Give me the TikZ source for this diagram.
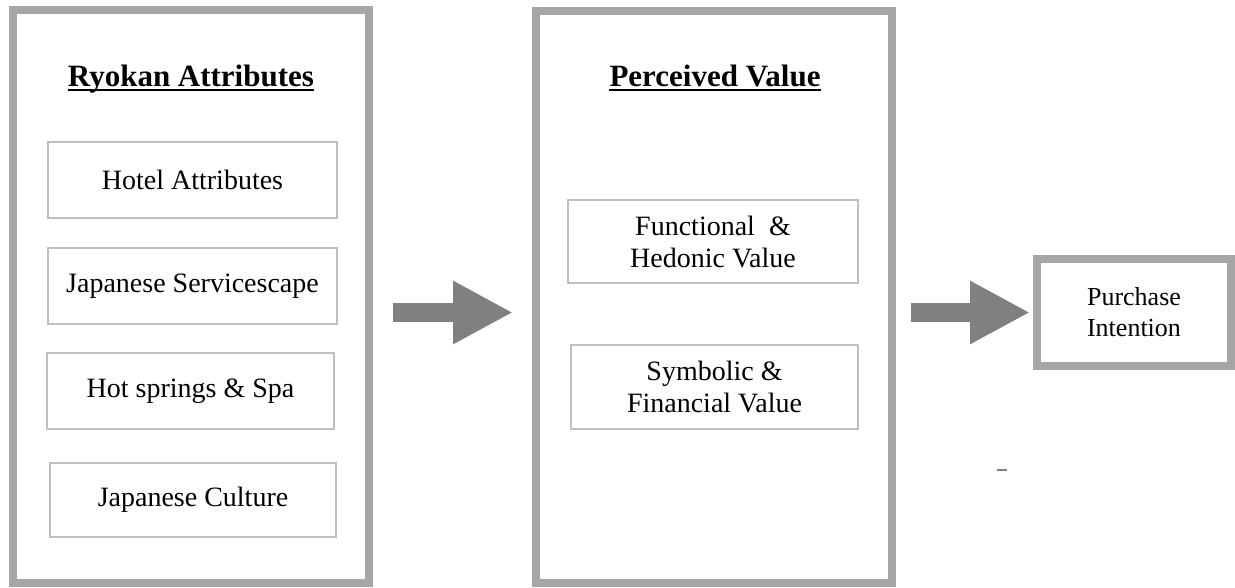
\documentclass[tikz,border=0pt]{standalone}
\usepackage{fontspec}
\setmainfont{Liberation Serif}
\usetikzlibrary{arrows.meta,positioning}
\definecolor{framegray}{HTML}{A6A6A6}
\definecolor{linegray}{HTML}{BFBFBF}
\definecolor{arrowgray}{HTML}{808080}

\begin{document}
\begin{tikzpicture}[x=1pt,y=-1pt,
  outerbox/.style={draw=framegray, line width=8pt, fill=white, inner sep=0pt, align=center},
  itembox/.style={draw=linegray, line width=1.2pt, inner sep=0pt, align=center, font=\fontsize{28}{32}\selectfont},
  heading/.style={inner sep=0pt, anchor=base, font=\fontsize{31}{36}\selectfont\bfseries},
  bigarrow/.style={arrowgray, line width=19pt, -{Triangle[length=60pt,width=59pt]}}]
  \useasboundingbox (0,0) rectangle (1235,587);

  % Ryokan Attributes
  \node[outerbox, minimum width=356.5pt, minimum height=573pt] (ryokan) at (190.75,296.5) {};
  \node[heading] (rtitle) at (191,86) {Ryokan Attributes};
  \draw[line width=2.5pt] ([yshift=-4pt]rtitle.base west) -- ([yshift=-4pt]rtitle.base east);
  \node[itembox, minimum width=289pt, minimum height=76pt] (hotel) at (192.5,180) {Hotel Attributes};
  \node[itembox, minimum width=289pt, minimum height=76pt] (scape) at (192.5,286) {Japanese Servicescape};
  \node[itembox, minimum width=287pt, minimum height=76pt] (spa) at (190.5,391) {Hot springs \& Spa};
  \node[itembox, minimum width=286pt, minimum height=74pt] (culture) at (193,500) {Japanese Culture};

  % Perceived Value
  \node[outerbox, minimum width=356pt, minimum height=572pt] (perceived) at (714,297) {};
  \node[heading] (ptitle) at (715,86) {Perceived Value};
  \draw[line width=2.5pt] ([yshift=-4pt]ptitle.base west) -- ([yshift=-4pt]ptitle.base east);
  \node[itembox, minimum width=290pt, minimum height=83pt] (functional) at (713,241.5) {Functional\ \ \&\\Hedonic Value};
  \node[itembox, minimum width=287pt, minimum height=84pt] (symbolic) at (714.5,387) {Symbolic \&\\Financial Value};

  % Purchase Intention
  \node[outerbox, minimum width=194pt, minimum height=107pt, font=\fontsize{26}{31}\selectfont] (purchase) at (1134,312.5) {Purchase\\Intention};

  % arrows
  \draw[bigarrow, shorten <=20pt, shorten >=19pt] (ryokan.east |- purchase.west) -- (perceived.west |- purchase.west);
  \draw[bigarrow, shorten <=15pt, shorten >=3pt] (perceived.east |- purchase.west) -- (purchase.west);

  % stray mark
  \draw[gray, line width=1.5pt] (997,470) -- (1007,470);
\end{tikzpicture}
\end{document}
